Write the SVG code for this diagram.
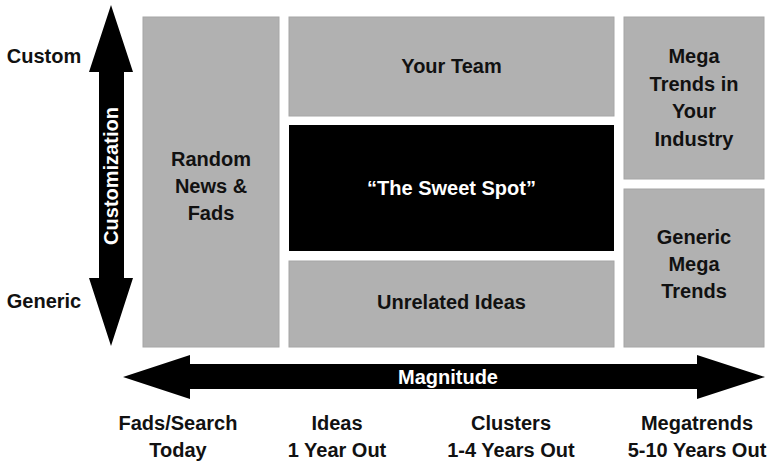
<svg xmlns="http://www.w3.org/2000/svg" width="776" height="463" viewBox="0 0 776 463">
<style>
.box{fill:#b1b1b1;stroke:#a6a6a6;stroke-width:1}
.dark{fill:#000}
text{font-family:"Liberation Sans",Arial,sans-serif;font-weight:bold;font-size:20px;text-anchor:middle;fill:#111}
.w{fill:#fff}
</style>
<rect width="776" height="463" fill="#fff"/>
<g id="connectors">
<path id="vertical-arrow" d="M111,5 L133,72 L124,72 L124,278 L133,278 L111,346 L89,278 L99,278 L99,72 L89,72 Z" fill="#000"/>
<path id="horizontal-arrow" d="M123,377 L190,355 L190,364 L697,364 L697,355 L765,377 L697,399 L697,389 L190,389 L190,399 Z" fill="#000"/>
</g>
<g id="axis-labels">
<text x="44" y="63">Custom</text>
<text x="44" y="308">Generic</text>
<text class="w" transform="translate(118,176) rotate(-90)">Customization</text>
<text class="w" x="448" y="384">Magnitude</text>
</g>
<g id="random-news">
<rect class="box" x="143" y="17" width="136" height="330"/>
<text x="211" y="166">Random</text>
<text x="211" y="193">News &amp;</text>
<text x="211" y="220">Fads</text>
</g>
<g id="your-team">
<rect class="box" x="289" y="17" width="325" height="99"/>
<text x="451.5" y="73">Your Team</text>
</g>
<g id="sweet-spot">
<rect class="dark" x="289" y="125" width="325" height="126"/>
<text class="w" x="451.5" y="195">“The Sweet Spot”</text>
</g>
<g id="unrelated-ideas">
<rect class="box" x="289" y="261" width="325" height="86"/>
<text x="451.5" y="309">Unrelated Ideas</text>
</g>
<g id="mega-trends-industry">
<rect class="box" x="624" y="17" width="140" height="162"/>
<text x="694" y="63">Mega</text>
<text x="694" y="91">Trends in</text>
<text x="694" y="118">Your</text>
<text x="694" y="146">Industry</text>
</g>
<g id="generic-mega-trends">
<rect class="box" x="624" y="189" width="140" height="158"/>
<text x="694" y="244">Generic</text>
<text x="694" y="271">Mega</text>
<text x="694" y="298">Trends</text>
</g>
<g id="time-labels">
<text x="178" y="430">Fads/Search</text>
<text x="178" y="457">Today</text>
<text x="337" y="430">Ideas</text>
<text x="337" y="457">1 Year Out</text>
<text x="511" y="430">Clusters</text>
<text x="511" y="457">1-4 Years Out</text>
<text x="697" y="430">Megatrends</text>
<text x="697" y="457">5-10 Years Out</text>
</g>
</svg>
